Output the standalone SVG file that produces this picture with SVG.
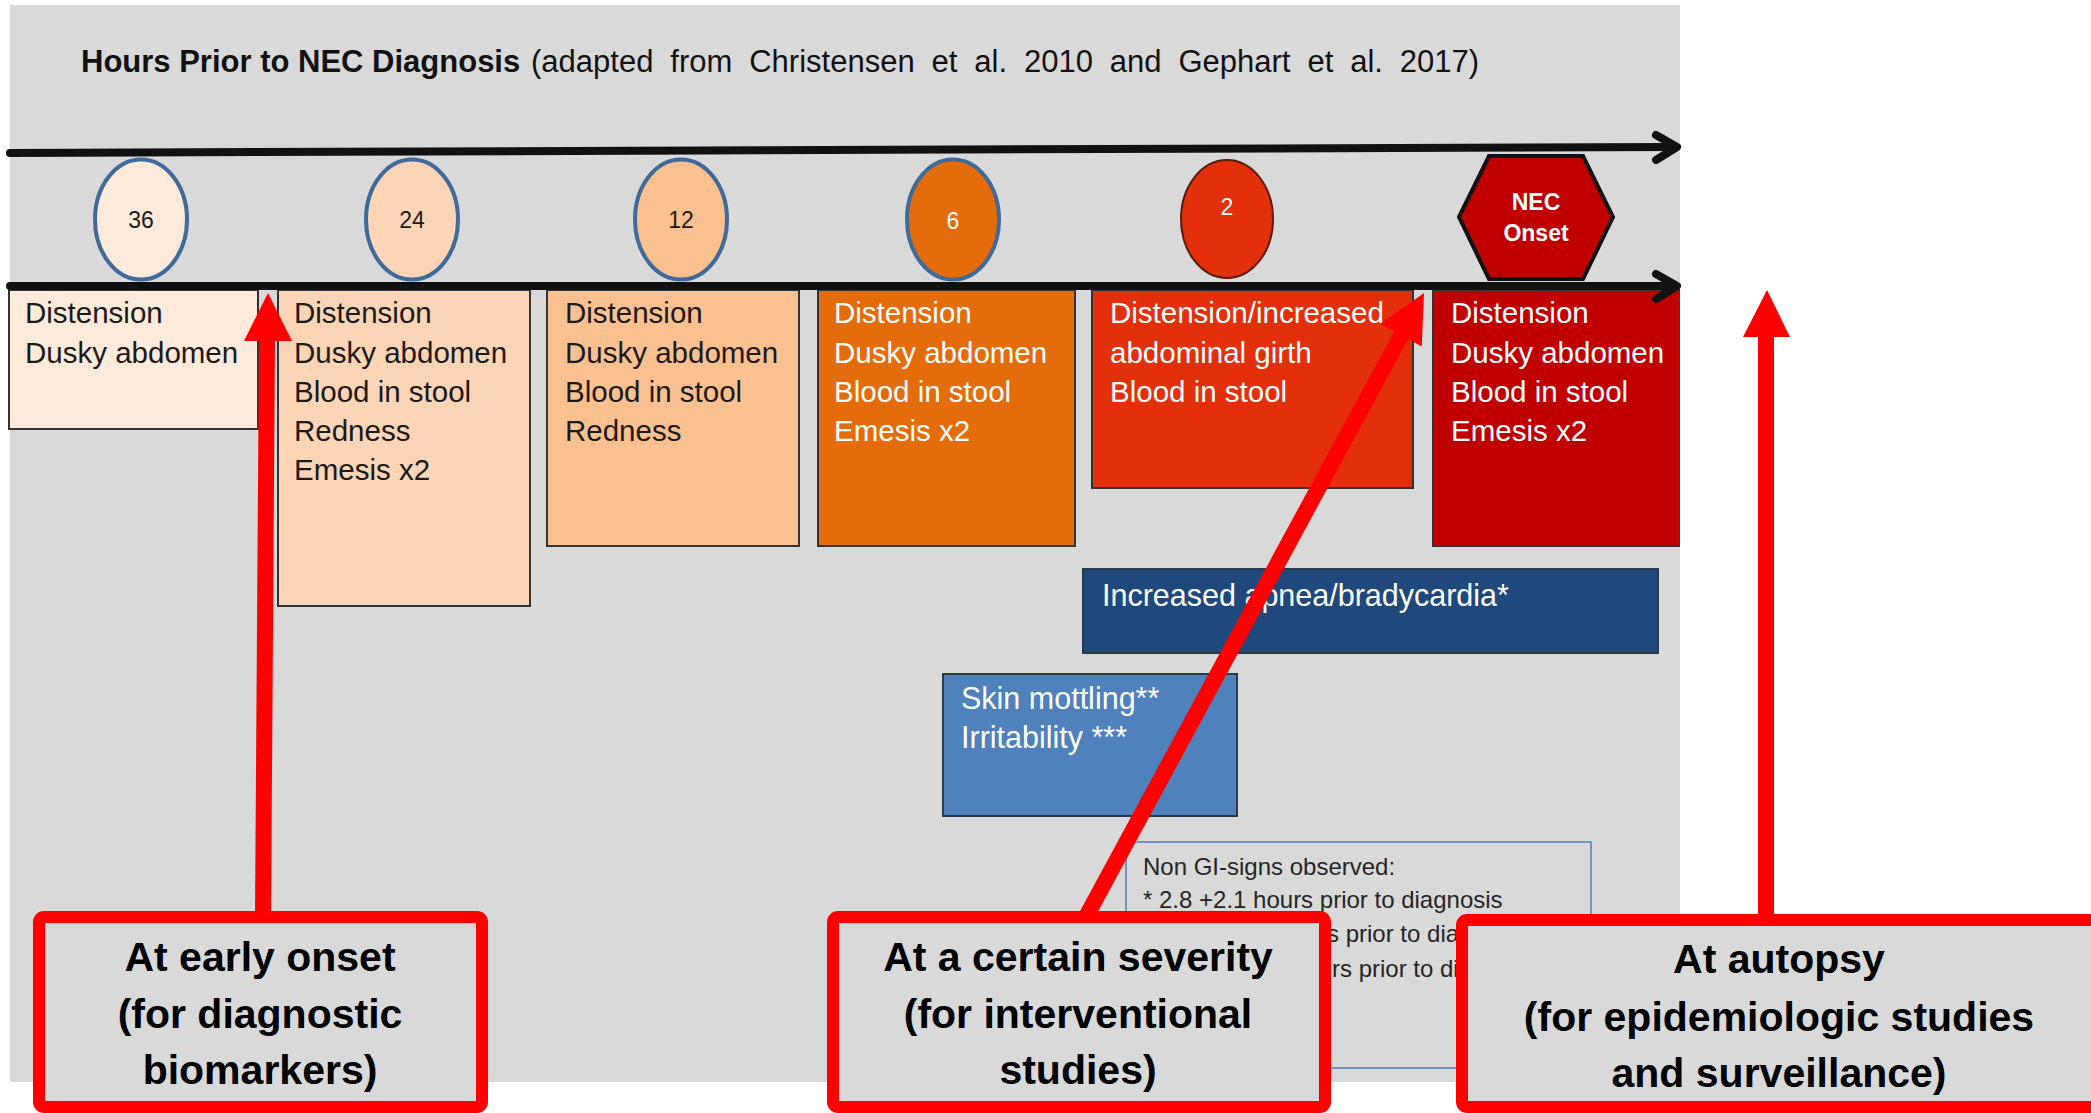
<svg xmlns="http://www.w3.org/2000/svg" width="2091" height="1113" viewBox="0 0 2091 1113">
<style>
text{font-family:"Liberation Sans",Arial,sans-serif}
.bx{stroke:#333;stroke-width:2}
.t{font-size:29.5px}
.tb{font-size:30.5px}
.dk{fill:#1a1a1a}
.wh{fill:#fff}
.num{font-size:23px;text-anchor:middle}
.ov{stroke:#3F6A99;stroke-width:4}
.lbl{fill:#D9D9D9;stroke:#FF0000;stroke-width:12}
.lt{font-size:41px;font-weight:bold;fill:#000;text-anchor:middle}
.ax{stroke:#111;stroke-width:8;fill:none;stroke-linecap:round;stroke-linejoin:round}
.red{fill:#FF0000}
.rs{stroke:#FF0000;stroke-width:16}
</style>
<rect x="0" y="0" width="2091" height="1113" fill="#fff"/>
<rect x="10" y="5" width="1670" height="1077" fill="#D9D9D9"/>
<g id="title">
<text x="81" y="72" font-size="31" font-weight="bold" fill="#111">Hours Prior to NEC Diagnosis</text>
<text x="531" y="72" font-size="31" fill="#111" word-spacing="8.3">(adapted from Christensen et al. 2010 and Gephart et al. 2017)</text>
</g>
<g id="box36"><rect class="bx" x="9" y="290" width="249" height="139" fill="#FDEADA"/>
<text class="t dk" x="25"><tspan x="25" y="323">Distension</tspan><tspan x="25" y="363">Dusky abdomen</tspan></text></g>
<g id="box24"><rect class="bx" x="278" y="290" width="252" height="316" fill="#FBD5B5"/>
<text class="t dk"><tspan x="294" y="323">Distension</tspan><tspan x="294" y="363">Dusky abdomen</tspan><tspan x="294" y="402">Blood in stool</tspan><tspan x="294" y="441">Redness</tspan><tspan x="294" y="480">Emesis x2</tspan></text></g>
<g id="box12"><rect class="bx" x="547" y="290" width="252" height="256" fill="#FAC090"/>
<text class="t dk"><tspan x="565" y="323">Distension</tspan><tspan x="565" y="363">Dusky abdomen</tspan><tspan x="565" y="402">Blood in stool</tspan><tspan x="565" y="441">Redness</tspan></text></g>
<g id="box6"><rect class="bx" x="818" y="290" width="257" height="256" fill="#E46C0A"/>
<text class="t wh"><tspan x="834" y="323">Distension</tspan><tspan x="834" y="363">Dusky abdomen</tspan><tspan x="834" y="402">Blood in stool</tspan><tspan x="834" y="441">Emesis x2</tspan></text></g>
<g id="box2"><rect class="bx" x="1092" y="290" width="321" height="198" fill="#E3300B"/>
<text class="t wh"><tspan x="1110" y="323">Distension/increased</tspan><tspan x="1110" y="363">abdominal girth</tspan><tspan x="1110" y="402">Blood in stool</tspan></text></g>
<g id="boxOnset"><rect class="bx" x="1433" y="290" width="260" height="256" fill="#C00000"/>
<rect x="1680" y="288" width="20" height="262" fill="#fff"/>
<text class="t wh"><tspan x="1451" y="323">Distension</tspan><tspan x="1451" y="363">Dusky abdomen</tspan><tspan x="1451" y="402">Blood in stool</tspan><tspan x="1451" y="441">Emesis x2</tspan></text></g>
<g id="h36"><ellipse class="ov" cx="141" cy="219.5" rx="46" ry="60" fill="#FDEADA"/><text class="num dk" x="141" y="228">36</text></g>
<g id="h24"><ellipse class="ov" cx="412" cy="219.5" rx="46" ry="60" fill="#FBD5B5"/><text class="num dk" x="412" y="228">24</text></g>
<g id="h12"><ellipse class="ov" cx="681" cy="219.5" rx="46" ry="60" fill="#FAC090"/><text class="num dk" x="681" y="228">12</text></g>
<g id="h6"><ellipse class="ov" cx="953" cy="219.5" rx="46" ry="60" fill="#E46C0A"/><text class="num wh" x="953" y="229">6</text></g>
<g id="h2"><ellipse cx="1227" cy="219" rx="46" ry="59" fill="#E3300B" stroke="#5a1a0a" stroke-width="2"/><text class="num wh" x="1227" y="215">2</text></g>
<g id="onset"><polygon points="1459,217 1489,156 1583,156 1613,217 1583,279 1489,279" fill="#C00000" stroke="#111" stroke-width="4"/>
<text x="1536" y="210" font-size="23" font-weight="bold" fill="#fff" text-anchor="middle">NEC</text>
<text x="1536" y="241" font-size="23" font-weight="bold" fill="#fff" text-anchor="middle">Onset</text></g>
<g id="axes">
<path class="ax" d="M10,153 L1675,147"/>
<path class="ax" d="M1656,135 L1677,147 L1656,160"/>
<path class="ax" d="M10,286 L1675,286"/>
<path class="ax" d="M1656,274 L1677,286 L1656,299"/>
</g>
<g id="apnea"><rect x="1083" y="569" width="575" height="84" fill="#1F497D" stroke="#2a3a4a" stroke-width="2"/>
<text class="tb wh" x="1102" y="606">Increased apnea/bradycardia*</text></g>
<g id="skin"><rect x="943" y="674" width="294" height="142" fill="#4F81BD" stroke="#2a3a4a" stroke-width="2"/>
<text class="tb wh"><tspan x="961" y="709">Skin mottling**</tspan><tspan x="961" y="748">Irritability ***</tspan></text></g>
<g id="note"><rect x="1126" y="842" width="465" height="226" fill="none" stroke="#7393C4" stroke-width="2"/>
<text font-size="24" fill="#262626"><tspan x="1143" y="875">Non GI-signs observed:</tspan><tspan x="1143" y="908">* 2.8 +2.1 hours prior to diagnosis</tspan><tspan x="1327" y="942">s prior to diagnosis</tspan><tspan x="1332" y="977">rs prior to diagnosis</tspan></text></g>
<g id="connectors">
<line class="rs" x1="263" y1="915" x2="267" y2="336"/>
<polygon class="red" points="268,293 292,341 244,341"/>
<line class="rs" x1="1087" y1="915" x2="1403" y2="332"/>
<polygon class="red" points="1424,293 1421.7,346.4 1380.5,324"/>
<line class="rs" x1="1766" y1="915" x2="1766" y2="333"/>
<polygon class="red" points="1767,290 1790,337 1743,337"/>
</g>
<g id="early"><rect class="lbl" x="39" y="917" width="443" height="190" rx="5"/>
<text class="lt"><tspan x="260" y="971">At early onset</tspan><tspan x="260" y="1028">(for diagnostic</tspan><tspan x="260" y="1084">biomarkers)</tspan></text></g>
<g id="severity"><rect class="lbl" x="833" y="917" width="492" height="190" rx="5"/>
<text class="lt"><tspan x="1078" y="971">At a certain severity</tspan><tspan x="1078" y="1028">(for interventional</tspan><tspan x="1078" y="1084">studies)</tspan></text></g>
<g id="autopsy"><rect class="lbl" x="1462" y="920" width="660" height="187" rx="5"/>
<text class="lt"><tspan x="1779" y="973">At autopsy</tspan><tspan x="1779" y="1031">(for epidemiologic studies</tspan><tspan x="1779" y="1087">and surveillance)</tspan></text></g>
</svg>
